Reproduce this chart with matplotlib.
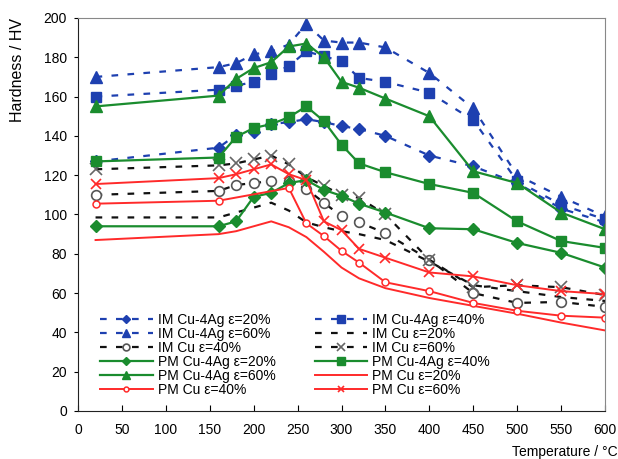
import matplotlib
matplotlib.use("Agg")
import matplotlib.pyplot as plt

plt.rcParams['font.family'] = ['Liberation Sans', 'DejaVu Sans']

# temperature points (deg C)
temps = [20, 160, 180, 200, 220, 240, 260, 280, 300, 320, 350, 400, 450, 500, 550, 600]
temps_pm_cu40 = [20, 160, 240, 260, 280, 300, 320, 350, 400, 450, 500, 550, 600]

# hardness values (HV)
im_ag20 = [127, 134, 140.5, 142, 146, 147, 148.5, 147, 145, 143.5, 140, 130, 124.5, 116, 103, 96]
im_ag40 = [160, 163.5, 165.5, 167.5, 171.5, 175.5, 183, 180.5, 178, 169.5, 167.5, 162, 148, 117, 105, 97.5]
im_ag60 = [170, 175, 177, 181.5, 183, 186.5, 197, 188.5, 187.5, 187.5, 185, 172, 154, 120, 109, 99]
im_cu20 = [98.5, 98.5, 101, 103.5, 106, 102, 96, 93.5, 91.5, 90, 87, 76, 64, 61, 58, 56]
im_cu40 = [110, 112, 115, 116, 117, 117, 113, 106, 99, 96, 90.5, 77, 60, 55, 55.5, 53]
im_cu60 = [123, 125, 126, 128, 130, 125.5, 119, 114.5, 110, 108.5, 100, 77, 63, 64, 63, 59]
pm_ag20 = [94, 94, 96.5, 109, 111, 116, 117.5, 112.5, 109.5, 105.5, 101, 93, 92.5, 85.5, 80.5, 73]
pm_ag40 = [127, 129, 139.5, 144, 146, 149.5, 155, 147.5, 135.5, 126, 121.5, 115.5, 111, 96.5, 86.5, 83]
pm_ag60 = [155, 160.5, 169, 174.5, 177.5, 185.5, 187, 180, 167.5, 164.5, 159, 150, 122, 116, 101, 92.5]
pm_cu20 = [87, 90, 91.5, 94, 96.5, 93.5, 88.5, 81, 73, 67.5, 62.5, 57.5, 53.5, 49.5, 45, 41]
pm_cu40 = [105.5, 107, 113.5, 95.5, 89, 81.5, 75.5, 65.5, 61, 55, 51, 48.5, 47.5]
pm_cu60 = [115.5, 118.5, 120.5, 123, 125.5, 120.5, 117.5, 96.5, 92, 82.5, 78, 70.5, 68.5, 64, 61, 59.5]

blue = '#1E40B0'
green = '#1A8C2E'
red = '#FF2A2A'
dash = (0, (3, 4.2))

fig = plt.figure(figsize=(6.18, 4.59), dpi=100)
ax = fig.add_axes([0.1262, 0.1046, 0.8528, 0.8562])

lines = []
lines += ax.plot(temps, im_ag20, color=blue, ls=dash, lw=1.6, marker='D', ms=6.5, label='IM Cu-4Ag ε=20%')
lines += ax.plot(temps, im_ag40, color=blue, ls=dash, lw=1.6, marker='s', ms=7.5, label='IM Cu-4Ag ε=40%')
lines += ax.plot(temps, im_ag60, color=blue, ls=dash, lw=1.6, marker='^', ms=8.5, label='IM Cu-4Ag ε=60%')
lines += ax.plot(temps, im_cu20, color='#111111', ls=dash, lw=1.6, label='IM Cu ε=20%')
lines += ax.plot(temps, im_cu40, color='#111111', ls=dash, lw=1.6, marker='o', ms=7, mfc='white',
                 mec='#555555', mew=1.2, label='IM Cu ε=40%')
lines += ax.plot(temps, im_cu60, color='#111111', ls=dash, lw=1.6, marker='x', ms=8, mec='#666666',
                 mew=1.2, label='IM Cu ε=60%')
lines += ax.plot(temps, pm_ag20, color=green, lw=1.6, marker='D', ms=6, label='PM Cu-4Ag ε=20%')
lines += ax.plot(temps, pm_ag40, color=green, lw=1.6, marker='s', ms=7.5, label='PM Cu-4Ag ε=40%')
lines += ax.plot(temps, pm_ag60, color=green, lw=1.6, marker='^', ms=8, label='PM Cu-4Ag ε=60%')
lines += ax.plot(temps, pm_cu20, color=red, lw=1.4, label='PM Cu ε=20%')
lines += ax.plot(temps_pm_cu40, pm_cu40, color=red, lw=1.4, marker='o', ms=5, mfc='white', mew=1.1,
                 label='PM Cu ε=40%')
lines += ax.plot(temps, pm_cu60, color=red, lw=1.4, marker='x', ms=6.5, mew=1.2, label='PM Cu ε=60%')

ax.set_xlim(0, 600)
ax.set_ylim(0, 200)
ax.set_xticks(range(0, 601, 50))
ax.set_yticks(range(0, 201, 20))
ax.tick_params(axis='y', direction='out', length=3, pad=5, labelsize=10)
ax.tick_params(axis='x', direction='in', length=4, pad=9, labelsize=10)
for s in ['left', 'bottom']:
    ax.spines[s].set_color('#222222')
for s in ['top', 'right']:
    ax.spines[s].set_color('#888888')

# legend is filled row by row in the original
order = [0, 2, 4, 6, 8, 10, 1, 3, 5, 7, 9, 11]
ax.legend([lines[i] for i in order], [lines[i].get_label() for i in order],
          ncol=2, loc='upper left', bbox_to_anchor=(0.0417, 0.249), frameon=False,
          fontsize=10, labelspacing=0.0, handlelength=3.8, handletextpad=0.36,
          columnspacing=2.8, borderpad=0, borderaxespad=0, markerscale=0.7)

fig.text(18 / 618, 1 - 70 / 459, 'Hardness / HV', rotation=90, ha='center', va='center', fontsize=11.5)
fig.text(0.999, 1 - 452 / 459, 'Temperature / °C', ha='right', va='center', fontsize=10)

fig.savefig('out.png', dpi=100)
